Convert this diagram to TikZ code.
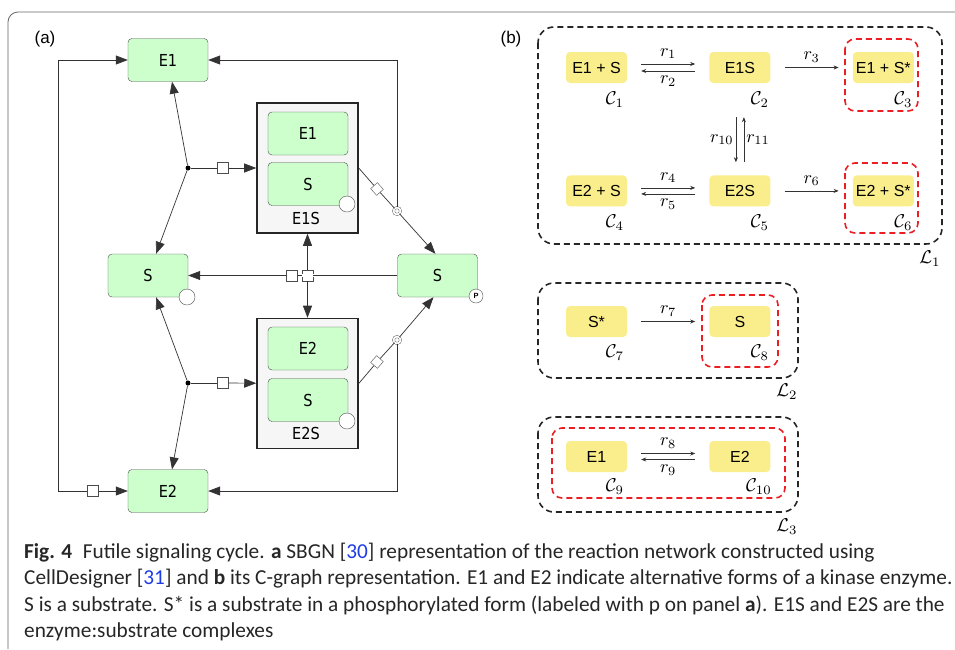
\documentclass[tikz,border=0pt]{standalone}
\usepackage{amsmath,amssymb}
\usepackage{fontspec}
\usepackage{xcolor}
\usepackage{tikz}
\usetikzlibrary{shapes.geometric, shapes.misc, arrows.meta, positioning, calc}

\newfontfamily\sbgnfont[FakeStretch=0.88]{DejaVu Sans}
\newfontfamily\cgfont{Liberation Sans}
\newfontfamily\capfont{Carlito}

\definecolor{sbgngreen}{RGB}{204,255,204}
\definecolor{cplxgray}{RGB}{246,246,246}
\definecolor{cgyellow}{RGB}{250,238,140}
\definecolor{dashred}{RGB}{235,30,35}
\definecolor{citeblue}{RGB}{30,60,230}

\begin{document}
\begin{tikzpicture}[
    x=1pt, y=-1pt,
    species/.style={rectangle, draw=black!70, rounded corners=4pt, fill=sbgngreen,
                    minimum width=80pt, minimum height=43pt, inner sep=0pt,
                    font=\sbgnfont\fontsize{16.5}{18}\selectfont},
    cplx/.style={chamfered rectangle, chamfered rectangle xsep=7pt,
                 draw=black!85, line width=1.5pt, fill=cplxgray,
                 minimum width=101pt, minimum height=130pt, inner sep=0pt},
    cplxlbl/.style={inner sep=0pt, font=\sbgnfont\fontsize{16.5}{18}\selectfont},
    statevar/.style={circle, draw=black!70, fill=white, minimum size=16pt, inner sep=0pt},
    junc/.style={circle, fill=black, minimum size=5pt, inner sep=0pt},
    proc/.style={rectangle, draw=black!70, fill=white, minimum size=11pt, inner sep=0pt},
    diam/.style={rectangle, draw=black!70, fill=white, minimum size=9pt, inner sep=0pt},
    dcirc/.style={circle, draw=black!70, double=white, double distance=1.8pt,
                  fill=white, minimum size=7pt, inner sep=0pt},
    ln/.style={draw=black!80, line width=0.7pt},
    arr/.style={ln, -{Triangle[length=12pt,width=9pt]}},
    cg/.style={rectangle, rounded corners=4pt, fill=cgyellow,
               minimum width=61pt, minimum height=31pt, inner sep=0pt,
               font=\cgfont\fontsize{16}{19}\selectfont},
    clbl/.style={inner sep=0pt, scale=1.85},
    rarr/.style={draw=black!80, line width=0.6pt, -{Stealth[length=5pt,width=4pt]}},
    rlbl/.style={inner sep=2.5pt, scale=1.8},
    blkbox/.style={draw=black!85, line width=1.6pt, dash pattern=on 6pt off 4pt, rounded corners=16pt},
    redbox/.style={draw=dashred, line width=1.6pt, dash pattern=on 6pt off 4pt, rounded corners=10pt},
    capline/.style={anchor=base west, inner sep=0pt, text=black!85,
                    font=\capfont\fontsize{21.3}{26}\selectfont},
]
\useasboundingbox (0,0) rectangle (955,649);
% frame of the figure
\draw[black!60, line width=0.8pt, rounded corners=10pt] (8,649) -- (8,12) -- (955,12);

%% (a) SBGN map
\node[font=\cgfont\fontsize{17}{20}\selectfont, inner sep=0pt] (lbla) at (45,39) {(a)};
\node[species] (e1) at (168,60)    {E1};
\node[species] (e2) at (168,491)   {E2};
\node[species] (sl) at (148,275.5) {S};
\node[species] (sr) at (437.5,275.5) {S};

\node[cplx] (e1s) at (307.5,168) {};
\node[species] (e1s-e) at (308,133.5) {E1};
\node[species] (e1s-s) at (308,184)   {S};
\node[cplxlbl] (e1s-l) at (306,218)   {E1S};
\node[cplx] (e2s) at (307.5,383.5) {};
\node[species] (e2s-e) at (308,348.5) {E2};
\node[species] (e2s-s) at (308,400)   {S};
\node[cplxlbl] (e2s-l) at (306,433)   {E2S};

\node[statevar] (sv1) at (347,204) {};
\node[statevar] (sv2) at (347,421) {};
\node[statevar] (sv3) at (187,297) {};
\node[statevar, minimum size=14pt, font=\cgfont\fontsize{7.5}{8}\selectfont\bfseries] (sv4) at (476,296) {P};

% process glyphs
\node[junc] (j1) at (188,168) {};
\node[proc] (p1) at (223,168) {};
\node[junc] (j2) at (188,383) {};
\node[proc] (p2) at (223,383) {};
\node[proc] (p3) at (93,491)  {};
\node[proc] (p4) at (292,275.5) {};
\node[proc] (p5) at (307.5,275.5) {};
\draw[white, line width=3pt] ([xshift=-0.6pt]p5.west) -- ([xshift=0.6pt]p5.east);
\node[diam, rotate=-48] (d1) at (377,189) {};
\node[dcirc] (o1) at (397,211) {};
\node[diam, rotate=48] (d2) at (377,362) {};
\node[dcirc] (o2) at (397,340) {};
\coordinate (k1) at (58,60);
\coordinate (k2) at (58,491);
\coordinate (k3) at (397,60);
\coordinate (k4) at (397,491);

% arcs
\draw[arr] (j1) -- (e1);
\draw[arr] (j1) -- (sl);
\draw[ln]  (j1) -- (p1);
\draw[arr] (p1) -- (e1s);
\draw[arr] (j2) -- (sl);
\draw[arr] (j2) -- (e2);
\draw[ln]  (j2) -- (p2);
\draw[arr] (p2) -- (e2s);
\draw[arr] (p3) -- (e2);
\draw[arr] (p3) -- (k2) -- (k1) -- (e1);
\draw[ln]  (e1s.east) -- (d1) -- (o1);
\draw[arr] (o1) -- ([xshift=-2pt]sr.north);
\draw[arr] (o1) -- (k3) -- (e1);
\draw[ln]  (e2s.east) -- (d2) -- (o2);
\draw[arr] (o2) -- ([xshift=-4pt]sr.south);
\draw[arr] (o2) -- (k4) -- (e2);
\draw[ln]  (sr) -- (p5);
\draw[ln]  (p5) -- (p4);
\draw[arr] (p4) -- (sl);
\draw[arr] (p5) -- (e1s);
\draw[arr] (p5) -- (e2s);

%% (b) C-graph
\node[font=\cgfont\fontsize{17}{20}\selectfont, inner sep=0pt] (lblb) at (511,39) {(b)};
\node[cg] (c1) at (596.5,67.5) {E1 + S};
\node[cg, right=82pt of c1] (c2) {E1S};
\node[cg, right=82pt of c2] (c3) {E1 + S*};
\node[cg, below=92pt of c1] (c4) {E2 + S};
\node[cg, right=82pt of c4] (c5) {E2S};
\node[cg, right=82pt of c5] (c6) {E2 + S*};
\node[cg] (c7) at (596.5,321.5) {S*};
\node[cg, right=82pt of c7] (c8) {S};
\node[cg] (c9) at (596.5,456.5) {E1};
\node[cg, right=82pt of c9] (c10) {E2};

\node[clbl] (c1l) at ($(c1)+(18.5,32)$) {$\mathcal{C}_1$};
\node[clbl] (c2l) at ($(c2)+(20,32)$) {$\mathcal{C}_2$};
\node[clbl] (c3l) at ($(c3)+(20,32)$) {$\mathcal{C}_3$};
\node[clbl] (c4l) at ($(c4)+(18.5,32)$) {$\mathcal{C}_4$};
\node[clbl] (c5l) at ($(c5)+(20,32)$) {$\mathcal{C}_5$};
\node[clbl] (c6l) at ($(c6)+(20,32)$) {$\mathcal{C}_6$};
\node[clbl] (c7l) at ($(c7)+(18.5,31)$) {$\mathcal{C}_7$};
\node[clbl] (c8l) at ($(c8)+(20,31)$) {$\mathcal{C}_8$};
\node[clbl] (c9l) at ($(c9)+(18.5,30.5)$) {$\mathcal{C}_9$};
\node[clbl] (c10l) at ($(c10)+(19,30.5)$) {$\mathcal{C}_{10}$};

\draw[rarr] ([xshift=14pt,yshift=3.5pt]c1.east) -- node[rlbl, above] (r1) {$r_1$} ([xshift=-14pt,yshift=3.5pt]c2.west);
\draw[rarr] ([xshift=-14pt,yshift=-3.5pt]c2.west) -- node[rlbl, below] (r2) {$r_2$} ([xshift=14pt,yshift=-3.5pt]c1.east);
\draw[rarr] ([xshift=14pt]c2.east) -- node[rlbl, above] (r3) {$r_3$} ([xshift=-14pt]c3.west);
\draw[rarr] ([xshift=14pt,yshift=3pt]c4.east) -- node[rlbl, above] (r4) {$r_4$} ([xshift=-14pt,yshift=3pt]c5.west);
\draw[rarr] ([xshift=-14pt,yshift=-3pt]c5.west) -- node[rlbl, below] (r5) {$r_5$} ([xshift=14pt,yshift=-3pt]c4.east);
\draw[rarr] ([xshift=14pt]c5.east) -- node[rlbl, above] (r6) {$r_6$} ([xshift=-14pt]c6.west);
\draw[rarr] ([xshift=-4pt,yshift=-34pt]c2.south) -- node[rlbl, left, inner sep=1pt] (r10) {$r_{10}$} ([xshift=-4pt,yshift=13pt]c5.north);
\draw[rarr] ([xshift=4pt,yshift=13pt]c5.north) -- node[rlbl, right, inner sep=1pt] (r11) {$r_{11}$} ([xshift=4pt,yshift=-34pt]c2.south);
\draw[rarr] ([xshift=14pt]c7.east) -- node[rlbl, above] (r7) {$r_7$} ([xshift=-14pt]c8.west);
\draw[rarr] ([xshift=14pt,yshift=3pt]c9.east) -- node[rlbl, above] (r8) {$r_8$} ([xshift=-14pt,yshift=3pt]c10.west);
\draw[rarr] ([xshift=-14pt,yshift=-3pt]c10.west) -- node[rlbl, below] (r9) {$r_9$} ([xshift=14pt,yshift=-3pt]c9.east);

% linkage classes and terminal strong linkage classes
\draw[blkbox] (538,27) rectangle (942,244);
\draw[redbox] (845,39) rectangle (918,111);
\draw[redbox] (845,163) rectangle (918,233);
\node[clbl] (l1) at (930,259) {$\mathcal{L}_1$};
\draw[blkbox] (538,283) rectangle (798,378);
\draw[redbox] (702,295) rectangle (778,367);
\node[clbl] (l2) at (787,392) {$\mathcal{L}_2$};
\draw[blkbox] (538,417) rectangle (798,512);
\draw[redbox] (552,428) rectangle (785,498);
\node[clbl] (l3) at (787,527) {$\mathcal{L}_3$};

%% caption
\node[capline] (cap1) at (24,558) {\textbf{Fig. 4}\hspace{0.5em}Futile signaling cycle. \textbf{a} SBGN [{\color{citeblue}30}] representation of the reaction network constructed using};
\node[capline] (cap2) at (24,584.5) {CellDesigner [{\color{citeblue}31}] and \textbf{b} its C-graph representation. E1 and E2 indicate alternative forms of a kinase enzyme.};
\node[capline] (cap3) at (24,611) {S is a substrate. S* is a substrate in a phosphorylated form (labeled with p on panel \textbf{a}). E1S and E2S are the};
\node[capline] (cap4) at (24,637.5) {enzyme:substrate complexes};
\end{tikzpicture}
\end{document}
